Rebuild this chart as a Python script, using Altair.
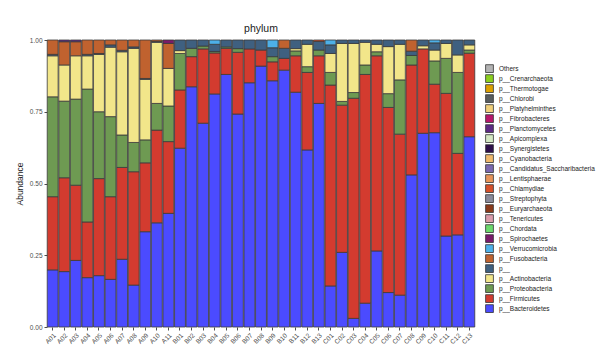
import altair as alt
import pandas as pd

samples = ["A01","A02","A03","A04","A05","A06","A07","A08","A09","A10","A11",
           "B01","B02","B03","B04","B05","B06","B07","B08","B09","B10","B11","B12","B13",
           "C01","C02","C03","C04","C05","C06","C07","C08","C09","C10","C11","C12","C13"]

# legend order (top to bottom)
phyla = ["Others","p__Crenarchaeota","p__Thermotogae","p__Chlorobi","p__Platyhelminthes",
         "p__Fibrobacteres","p__Planctomycetes","p__Apicomplexa","p__Synergistetes",
         "p__Cyanobacteria","p__Candidatus_Saccharibacteria","p__Lentisphaerae","p__Chlamydiae",
         "p__Streptophyta","p__Euryarchaeota","p__Tenericutes","p__Chordata","p__Spirochaetes",
         "p__Verrucomicrobia","p__Fusobacteria","p__","p__Actinobacteria","p__Proteobacteria",
         "p__Firmicutes","p__Bacteroidetes"]
colors = ["#B3B3B3","#8CCF1E","#DDA000","#585C5E","#F1CF7A",
          "#B8176B","#5E2A84","#D4E8C2","#2E0F4A",
          "#F0B86B","#7B68B0","#E8945A","#D6502A",
          "#8A8A9A","#8B3A1A","#DB9BAA","#6CD96C","#7A1A6A",
          "#4DB0E8","#C0622F","#3F6080","#F2E68A","#6E9A52",
          "#D33B2F","#4B4BFF"]

bacteroidetes = [.199,.193,.232,.172,.179,.166,.236,.146,.332,.363,.396,
                 .623,.837,.710,.812,.880,.742,.851,.909,.858,.895,.818,.617,.779,
                 .143,.260,.030,.083,.265,.120,.111,.530,.675,.677,.317,.321,.663]
firmicutes = [.255,.327,.262,.194,.338,.288,.320,.395,.240,.323,.250,
              .203,.105,.259,.143,.091,.215,.118,.056,.066,.041,.127,.270,.166,
              .700,.513,.767,.797,.680,.645,.561,.383,.294,.169,.497,.284,.291]
proteobacteria = [.348,.267,.300,.463,.233,.279,.113,.102,.080,.093,.124,
                  .127,.029,.010,.005,.005,.013,0,0,.018,0,.017,.020,.020,
                  .044,.013,.020,.033,.014,.048,.189,.033,0,.081,.122,.282,.011]
actinobacteria = [.143,.126,.151,.116,.200,.242,.290,.328,.211,.213,.131,
                  .010,0,0,0,0,0,0,0,0,0,.008,.078,0,
                  .066,.202,.171,.079,.026,.164,.124,0,.011,.038,.052,.061,.018]
unclassified = [.005,0,0,.005,.003,.008,.005,.005,.003,.003,0,
                .037,.029,.021,.025,.024,.030,.031,.035,.031,.035,.030,.015,.030,
                .030,.012,.012,.008,.015,.023,.015,.015,.020,.025,.012,.052,.017]
fusobacteria = [.050,.081,.049,.050,.047,.017,.036,.024,.134,.005,.087,
                0,0,0,0,0,0,0,0,0,.029,0,0,0,
                0,0,0,0,0,0,0,.039,0,0,0,0,0]
verrucomicrobia = [0,0,0,0,0,0,0,0,0,0,0,
                   0,0,0,.015,0,0,0,0,.027,0,0,0,0,
                   .017,0,0,0,0,0,0,0,0,.010,0,0,0]
planctomycetes = [0,.006,.006,0,0,0,0,0,0,0,0,
                  0,0,0,0,0,0,0,0,0,0,0,0,0,
                  0,0,0,0,0,0,0,0,0,0,0,0,0]
spirochaetes = [0,0,0,0,0,0,0,0,0,0,.012,
                0,0,0,0,0,0,0,0,0,0,0,0,0,
                0,0,0,0,0,0,0,0,0,0,0,0,0]
chlamydiae = [0,0,0,0,0,0,0,0,0,0,0,
              0,0,0,0,0,0,0,0,0,0,0,0,.005,
              0,0,0,0,0,0,0,0,0,0,0,0,0]

series = {
    "p__Bacteroidetes": bacteroidetes,
    "p__Firmicutes": firmicutes,
    "p__Proteobacteria": proteobacteria,
    "p__Actinobacteria": actinobacteria,
    "p__": unclassified,
    "p__Fusobacteria": fusobacteria,
    "p__Verrucomicrobia": verrucomicrobia,
    "p__Spirochaetes": spirochaetes,
    "p__Planctomycetes": planctomycetes,
    "p__Chlamydiae": chlamydiae,
}

rows = []
for name, vals in series.items():
    rank = len(phyla) - 1 - phyla.index(name)  # 0 = bottom of stack
    for s, v in zip(samples, vals):
        if v > 0:
            rows.append({"sample": s, "phylum": name, "abundance": v, "rank": rank})
df = pd.DataFrame(rows)

FONT = "Liberation Sans"

chart = alt.Chart(df).mark_bar(stroke="#3a3a3a", strokeWidth=0.8).encode(
    x=alt.X("sample:N", sort=samples,
            scale=alt.Scale(paddingInner=0.06, paddingOuter=0.02),
            axis=alt.Axis(title=None, labelAngle=-45, labelFontSize=6.5, labelColor="#4d4d4d",
                          labelFont=FONT, tickSize=3, tickColor="#4d4d4d", domain=False,
                          labelPadding=2)),
    y=alt.Y("abundance:Q", stack="zero",
            scale=alt.Scale(domain=[0, 1], nice=False),
            axis=alt.Axis(title="Abundance", values=[0, 0.25, 0.5, 0.75, 1], format=".2f",
                          labelFontSize=6.5, labelColor="#4d4d4d", labelFont=FONT,
                          tickSize=3, tickColor="#4d4d4d", domain=False, grid=False,
                          titleFont=FONT, titleFontSize=8.5, titleFontWeight="normal",
                          titleColor="#222222", titlePadding=5)),
    color=alt.Color("phylum:N",
                    scale=alt.Scale(domain=phyla, range=colors),
                    legend=alt.Legend(title=None, orient="none", legendX=438, legendY=24,
                                      symbolType="square", symbolSize=61,
                                      symbolStrokeColor="#333333", symbolStrokeWidth=0.8,
                                      labelFontSize=6.5, labelFont=FONT, labelColor="#222222",
                                      rowPadding=0, clipHeight=9.2, labelOffset=5)),
    order=alt.Order("rank:Q", sort="ascending"),
).properties(
    width=428, height=287,
    title=alt.TitleParams("phylum", fontSize=10.5, font=FONT, fontWeight="normal",
                          color="#222222", anchor="middle", offset=3),
    autosize=alt.AutoSizeParams(type="none"),
    padding={"left": 47, "top": 40, "right": 122, "bottom": 26},
).configure_view(stroke=None)

chart.save("out.html", embed_options={"renderer": "svg", "actions": False})
